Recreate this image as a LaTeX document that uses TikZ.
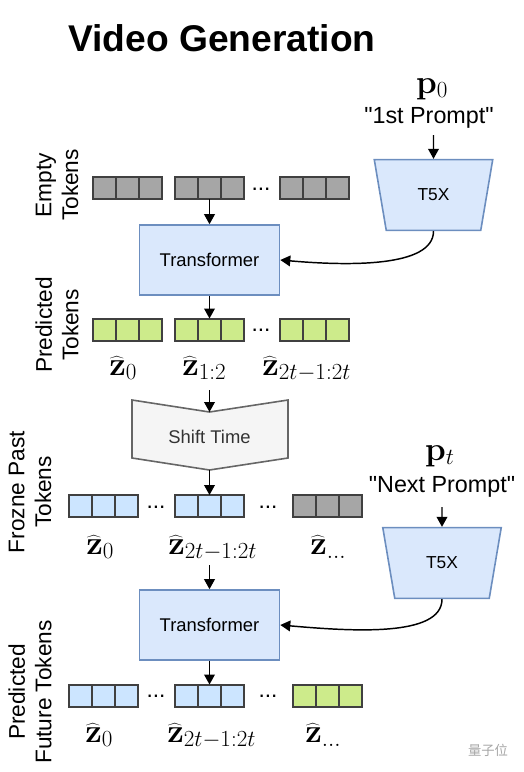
\documentclass[tikz,border=0pt]{standalone}
\usepackage[no-math]{fontspec}
\setmainfont{Liberation Sans}
\newfontfamily\quotefont{Liberation Sans}[Ligatures=TeXOff]
\newfontfamily\cjkfont{Noto Sans CJK SC}
\usepackage{xcolor}
\usetikzlibrary{arrows.meta,shapes.geometric}
\definecolor{tokgray}{RGB}{166,166,166}
\definecolor{tokline}{RGB}{64,64,64}
\definecolor{tokgreen}{RGB}{205,235,139}
\definecolor{tokblue}{RGB}{204,229,255}
\definecolor{boxfill}{RGB}{218,232,252}
\definecolor{boxline}{RGB}{108,142,191}
\definecolor{shiftfill}{RGB}{245,245,245}
\definecolor{shiftline}{RGB}{102,102,102}
\definecolor{shifttext}{RGB}{51,51,51}

\tikzset{
  cell/.style={draw=tokline, line width=1.5pt, minimum width=17.25pt,
    minimum height=16.5pt, inner sep=0pt, outer sep=0pt},
  tfbox/.style={draw=boxline, fill=boxfill, line width=1.2pt,
    minimum width=105pt, minimum height=52.5pt,
    font=\fontsize{13.8}{16}\selectfont},
  t5box/.style={trapezium, trapezium angle=71.6, shape border rotate=180,
    trapezium stretches=true, draw=boxline, fill=boxfill, line width=1.2pt,
    minimum width=89pt, minimum height=53pt, inner sep=0pt,
    font=\fontsize{13}{15}\selectfont},
  arr/.style={-{Triangle[length=7.5pt,width=8pt]}, line width=1.1pt},
  side/.style={rotate=90, align=center, font=\fontsize{17}{20}\selectfont},
  zlab/.style={anchor=base west, inner sep=0pt,
    font=\fontsize{26}{30}\selectfont},
  prompt/.style={anchor=base, inner sep=1pt,
    font=\quotefont\fontsize{17.5}{20}\selectfont},
  dots/.style={anchor=base, font=\fontsize{17}{20}\selectfont, inner sep=0pt}
}

\begin{document}
\begin{tikzpicture}[x=0.75pt, y=-0.75pt]
% pixel grid of the reference, y runs downwards
\useasboundingbox (0,0) rectangle (524,772);
\node[anchor=base west, inner sep=0pt, font=\fontsize{27.9}{32}\selectfont\bfseries]
  (title) at (68,51) {Video Generation};

% ---- first window: empty tokens -> transformer -> predicted tokens
\foreach \g/\gx in {1/92,2/174,3/279}
  \foreach \c in {0,1,2}
    \node[cell, fill=tokgray] (e\g\c) at ({\gx+1+(\c+0.5)*23}, 188) {};
\node[dots] (edots) at (261,190) {...};
\node[side] (elab) at (57,185) {Empty\\Tokens};

\node[tfbox] (tf1) at (209.5,260) {Transformer};
\draw[arr] (e21.south) -- (tf1.north);

\foreach \g/\gx in {1/92,2/174,3/279}
  \foreach \c in {0,1,2}
    \node[cell, fill=tokgreen] (p\g\c) at ({\gx+1+(\c+0.5)*23}, 329.5) {};
\node[dots] (pdots) at (261,331) {...};
\node[side] (plab) at (57,325) {Predicted\\Tokens};
\draw[arr] (tf1.south) -- (p21.north);

\node[zlab] (z0) at (109,375) {$\widehat{\mathbf{z}}_0$};
\node[zlab] (z12) at (182,375) {$\widehat{\mathbf{z}}_{1:2}$};
\node[zlab] (z2t) at (262,375) {$\widehat{\mathbf{z}}_{2t-1:2t}$};

% first prompt through T5X
\node[prompt, font=\fontsize{26}{30}\selectfont] (p0) at (432,93) {$\mathbf{p}_0$};
\node[prompt] (pr1) at (429,123) {"1st Prompt"};
\node[t5box] (t5a) at (433.5,195) {T5X};
\draw[arr] (433.5,135) -- (t5a.north);
\draw[arr] (t5a.south) to[out=-90, in=-5, out looseness=0.6, in looseness=1.1] (tf1.east);

% ---- shift time
\draw[draw=shiftline, fill=shiftfill, line width=1.2pt]
  (132,400) -- (209.5,412) -- (288,400) -- (288,458)
  -- (209.5,470) -- (132,458) -- cycle;
\coordinate (sttop) at (209.5,412);
\coordinate (stbot) at (209.5,470);
\node[text=shifttext, font=\fontsize{13.8}{16}\selectfont] (st) at (209.5,437) {Shift Time};
\draw[arr] (209.5,390) -- (sttop);

% ---- second window: frozen past tokens -> transformer -> future tokens
\foreach \g/\gx/\col in {1/68/tokblue,2/174/tokblue,3/292/tokgray}
  \foreach \c in {0,1,2}
    \node[cell, fill=\col] (f\g\c) at ({\gx+1+(\c+0.5)*23}, 506) {};
\node[dots] (fdotsa) at (156,508) {...};
\node[dots] (fdotsb) at (268,508) {...};
\node[side] (flab) at (30,492) {Frozne Past\\Tokens};
\draw[arr] (stbot) -- (f21.north);

\node[zlab] (fz0) at (86,554) {$\widehat{\mathbf{z}}_0$};
\node[zlab] (fz2t) at (168,554) {$\widehat{\mathbf{z}}_{2t-1:2t}$};
\node[zlab] (fzn) at (310,554) {$\widehat{\mathbf{z}}_{\ldots}$};

\node[tfbox] (tf2) at (209.5,625) {Transformer};
\draw[arr] (209.5,565) -- (tf2.north);

\node[prompt, font=\fontsize{26}{30}\selectfont] (pt) at (440,460) {$\mathbf{p}_t$};
\node[prompt] (pr2) at (442,492) {"Next Prompt"};
\node[t5box] (t5b) at (442,563) {T5X};
\draw[arr] (442,507) -- (t5b.north);
\draw[arr] (t5b.south) to[out=-90, in=-5, out looseness=0.6, in looseness=1.1] (tf2.east);

\foreach \g/\gx/\col in {1/68/tokblue,2/174/tokblue,3/292/tokgreen}
  \foreach \c in {0,1,2}
    \node[cell, fill=\col] (u\g\c) at ({\gx+1+(\c+0.5)*23}, 695.5) {};
\node[dots] (udotsa) at (156,697) {...};
\node[dots] (udotsb) at (268,697) {...};
\node[side] (ulab) at (30,692) {Predicted\\Future Tokens};
\draw[arr] (tf2.south) -- (u21.north);

\node[zlab] (uz0) at (85,742) {$\widehat{\mathbf{z}}_0$};
\node[zlab] (uz2t) at (167,742) {$\widehat{\mathbf{z}}_{2t-1:2t}$};
\node[zlab] (uzn) at (305,742) {$\widehat{\mathbf{z}}_{\ldots}$};

% watermark
\node[text=gray!70, font=\cjkfont\fontsize{10}{12}\selectfont] (wm) at (488,750) {量子位};
\end{tikzpicture}
\end{document}
